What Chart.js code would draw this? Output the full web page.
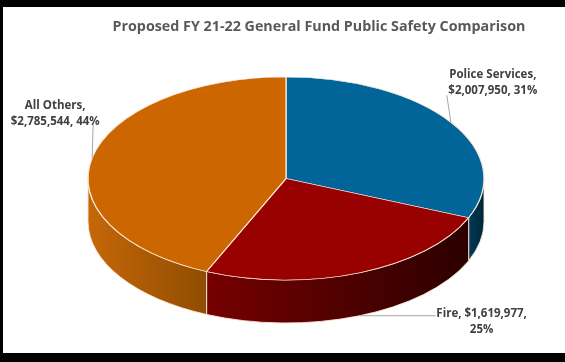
<!DOCTYPE html>
<html>
<head>
<meta charset="utf-8">
<script src="https://cdn.jsdelivr.net/npm/chart.js@4.4.1/dist/chart.umd.min.js"></script>
<style>
  html, body { margin: 0; padding: 0; background: #000; }
  #frame { position: absolute; left: 3px; top: 7px; width: 562px; height: 346px; background: #fff; }
</style>
</head>
<body>
<div id="frame"><canvas id="myChart" width="562" height="346"></canvas></div>
<script>
// data
var chartTitle = 'Proposed FY 21-22 General Fund Public Safety Comparison';
var categories = ['Police Services', 'Fire', 'All Others'];
var amounts = [2007950, 1619977, 2785544];
var percents = ['31%', '25%', '44%'];

// colours: top face, and side wall (left shade, right shade)
var topColors = ['#02659a', '#990000', '#cc6600'];
var sideColors = [['#003a58', '#002638'], ['#760000', '#2c0000'], ['#c66708', '#8f4d00']];

// where each label breaks its text, and where it sits relative to its slice
var labelBreak = ['name', 'amount', 'name'];
var labelPlace = [
    { dx: 42, dy: -40, lx: -4, ly: -27, onSide: false },
    { dx: 122, dy: 6, lx: 76, ly: 0, onSide: true },
    { dx: -37, dy: -44, lx: 1, ly: -36, onSide: false }
];

function money(v) {
    return '$' + v.toLocaleString('en-US');
}

function labelText(i) {
    if (labelBreak[i] == 'amount') {
        return [categories[i] + ', ' + money(amounts[i]) + ',', percents[i]];
    }
    return [categories[i] + ',', money(amounts[i]) + ', ' + percents[i]];
}

// draws the pie as a tilted disc: side walls first, then the library's arcs squashed
var pie3d = {
    id: 'pie3d',
    beforeDatasetsDraw(chart, args, o) {
        var ctx = chart.ctx;
        var arcs = chart.getDatasetMeta(0).data;
        ctx.save();
        arcs.forEach((arc, i) => {
            var a0 = Math.max(arc.startAngle, 0);
            var a1 = Math.min(arc.endAngle, Math.PI);
            if (a1 <= a0) return;
            var x0 = o.cx + o.rx * Math.cos(a1);
            var x1 = o.cx + o.rx * Math.cos(a0);
            var g = ctx.createLinearGradient(x0, 0, x1, 0);
            g.addColorStop(0, sideColors[i][0]);
            g.addColorStop(1, sideColors[i][1]);
            ctx.beginPath();
            ctx.ellipse(o.cx, o.cy, o.rx, o.ry, 0, a0, a1);
            ctx.ellipse(o.cx, o.cy + o.depth, o.rx, o.ry, 0, a1, a0, true);
            ctx.closePath();
            ctx.fillStyle = g;
            ctx.fill();
            ctx.lineWidth = 1;
            ctx.strokeStyle = o.edge;
            ctx.stroke();
        });
        var first = arcs[0];
        var r = first.outerRadius;
        ctx.translate(o.cx, o.cy);
        ctx.scale(o.rx / r, o.ry / r);
        ctx.translate(-first.x, -first.y);
    },
    afterDatasetsDraw(chart) {
        chart.ctx.restore();
    }
};

var pieLabels = {
    id: 'pieLabels',
    afterDraw(chart, args, o) {
        var p = chart.options.plugins.pie3d;
        var ctx = chart.ctx;
        var arcs = chart.getDatasetMeta(0).data;
        ctx.save();
        arcs.forEach((arc, i) => {
            var mid = (arc.startAngle + arc.endAngle) / 2;
            var pl = labelPlace[i];
            var ax = p.cx + p.rx * Math.cos(mid);
            var ay = p.cy + p.ry * Math.sin(mid) + (pl.onSide ? p.depth : 0);
            ctx.strokeStyle = o.lineColor;
            ctx.lineWidth = 1;
            ctx.beginPath();
            ctx.moveTo(ax, ay);
            ctx.lineTo(ax + pl.lx, ay + pl.ly);
            ctx.stroke();
            var lines = labelText(i);
            ctx.font = o.font;
            ctx.fillStyle = o.color;
            ctx.textAlign = 'center';
            ctx.textBaseline = 'middle';
            var top = ay + pl.dy - (lines.length - 1) * o.lineHeight / 2;
            lines.forEach((t, k) => {
                ctx.fillText(t, ax + pl.dx, top + k * o.lineHeight);
            });
        });
        ctx.restore();
    }
};

const data = {
    labels: categories,
    datasets: [{
        data: amounts,
        backgroundColor: topColors,
        borderColor: '#f7e8d8',
        borderWidth: 1,
        hoverOffset: 0,
        clip: false
    }]
};

const config = {
    type: 'pie',
    data: data,
    options: {
        responsive: false,
        animation: false,
        events: [],
        layout: { padding: { left: 70 } },
        plugins: {
            legend: { display: false },
            tooltip: { enabled: false },
            title: {
                display: true,
                text: chartTitle,
                color: '#595959',
                font: { family: 'Open Sans', size: 14.3, weight: 'bold' },
                padding: { top: 11, bottom: 10 }
            },
            pie3d: { cx: 283, cy: 171.5, rx: 198, ry: 101.5, depth: 43, edge: 'rgba(250,232,214,0.9)' },
            pieLabels: { font: 'bold 11.5px "Open Sans"', color: '#404040', lineColor: '#a6a6a6', lineHeight: 16 }
        }
    },
    plugins: [pie3d, pieLabels]
};

var myChart = new Chart(document.getElementById('myChart'), config);
</script>
</body>
</html>
